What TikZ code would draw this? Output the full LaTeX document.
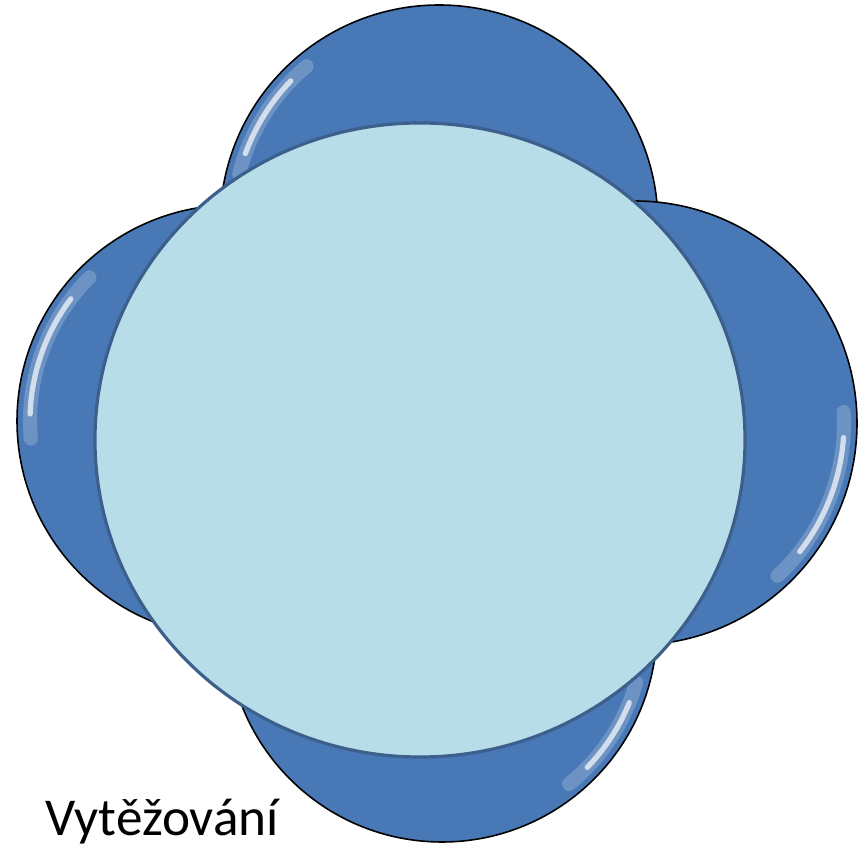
\documentclass[tikz,border=0pt]{standalone}
\usepackage{fontspec}
\setmainfont{Carlito}
\usepackage{tikz}
\pgfdeclarelayer{bg}
\pgfsetlayers{bg, main}

\definecolor{petalblue}{HTML}{4878B6}
\definecolor{hubfill}{HTML}{B7DDE8}
\definecolor{hubline}{HTML}{3C5F8C}

\tikzset{
    petal/.style={fill=petalblue, draw=black, line width=0.9pt},
    hub/.style={fill=hubfill, draw=hubline, line width=1.8pt},
    gleam/.style={draw=white, line cap=round, line width=#1},
    gleam/.default=2pt
}

\begin{document}
\begin{tikzpicture}[x=0.02cm, y=0.02cm]
        \useasboundingbox (0,0) rectangle (868,848);

        %petals behind the hub
        \begin{pgfonlayer}{bg}
            \filldraw [petal] (439,624) circle (219);
            \filldraw [petal] (635,425) circle (222);
            \filldraw [petal] (442,221) circle (215);
            \filldraw [petal] (233,427) circle (216);

            %shine on the rims
            \draw [gleam=8pt, opacity=0.2] (439,624) ++(130:206) arc[start angle=130, end angle=166, radius=206];
            \draw [gleam=3pt, opacity=0.7] (439,624) ++(136:206) arc[start angle=136, end angle=160, radius=206];
            \draw [gleam=8pt, opacity=0.2] (635,425) ++(-47:209) arc[start angle=-47, end angle=3, radius=209];
            \draw [gleam=3pt, opacity=0.7] (635,425) ++(-38:209) arc[start angle=-38, end angle=-4, radius=209];
            \draw [gleam=8pt, opacity=0.2] (442,221) ++(-51:202) arc[start angle=-51, end angle=-16, radius=202];
            \draw [gleam=3pt, opacity=0.7] (442,221) ++(-44:202) arc[start angle=-44, end angle=-22, radius=202];
            \draw [gleam=8pt, opacity=0.2] (233,427) ++(135:203) arc[start angle=135, end angle=185, radius=203];
            \draw [gleam=3pt, opacity=0.7] (233,427) ++(143:203) arc[start angle=143, end angle=178, radius=203];
        \end{pgfonlayer}

        %hub
        \filldraw [hub] (420,408) ellipse [x radius=325, y radius=317];

        %label
        \node (label) [anchor=base west, inner sep=0pt, font=\fontsize{30.3}{36}\selectfont] at (45,13) {Vytěžování};

\end{tikzpicture}
\end{document}
